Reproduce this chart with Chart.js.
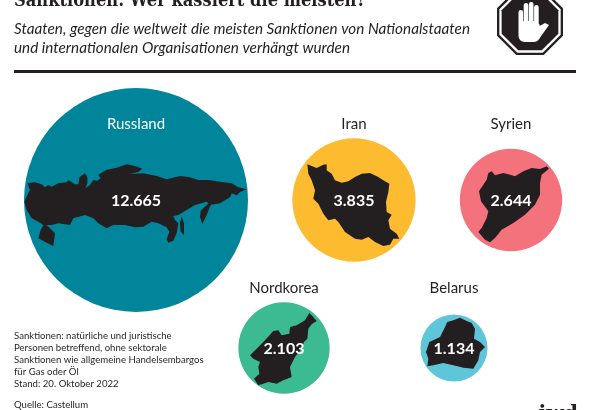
<!DOCTYPE html>
<html lang="de">
<head>
<meta charset="utf-8">
<title>Sanktionen</title>
<script src="https://cdn.jsdelivr.net/npm/chart.js@4"></script>
<style>
  body { margin: 0; background: #fff; }
  canvas { display: block; }
</style>
</head>
<body>
<canvas id="chart" width="590" height="410"></canvas>
<script>
// DATEN
const laender = ["Russland", "Iran", "Syrien", "Nordkorea", "Belarus"];
const sanktionen = [12665, 3835, 2644, 2103, 1134];
const werteText = ["12.665", "3.835", "2.644", "2.103", "1.134"];
const spalte = [136, 354, 511, 284, 454];
const reihe = [200, 200, 200, 348, 348];
const farben = ["#00859a", "#fdbb30", "#f4727c", "#3cba92", "#5fc6d9"];
const fussnote = [
  "Sanktionen: natürliche und juristische",
  "Personen betreffend, ohne sektorale",
  "Sanktionen wie allgemeine Handelsembargos",
  "für Gas oder Öl",
  "Stand: 20. Oktober 2022",
];

const DUNKEL = "#231f20";
const SANS = '"Lato", "Open Sans", sans-serif';

// Flaeche proportional zum Wert
const radiusFaktor = 112 / Math.sqrt(12665);

// Kreise duerfen bis an den Rand, sonst schrumpft die Chart-Flaeche um den groessten Radius
Chart.BubbleController.prototype.getMaxOverflow = () => 0;

// Umrisse, relativ zur Kreismitte (in 1/3 px)
const umrisse = {
  Russland: [
    [[-326,-50],[-303,-53],[-283,-47],[-273,-38],[-263,-45],[-253,-40],[-233,-50],[-208,-53],[-203,-60],[-183,-47],[-173,-47],[-170,-68],[-153,-80],[-146,-68],[-146,-50],[-152,-35],[-138,-45],[-128,-60],[-116,-58],[-106,-65],[-113,-75],[-90,-90],[-58,-97],[-28,-107],[-3,-102],[19,-94],[7,-84],[-18,-78],[22,-80],[62,-72],[92,-62],[132,-72],[162,-68],[187,-60],[217,-60],[252,-55],[287,-50],[307,-38],[332,-32],[312,-24],[302,-14],[287,-20],[282,-8],[252,10],[222,15],[212,5],[177,15],[152,30],[127,45],[112,48],[117,60],[127,70],[122,100],[112,122],[97,128],[92,118],[100,95],[92,82],[67,70],[47,65],[22,80],[-3,82],[-33,75],[-68,75],[-88,85],[-113,70],[-128,55],[-153,45],[-188,55],[-198,75],[-233,70],[-253,75],[-268,75],[-243,100],[-248,138],[-268,128],[-293,115],[-286,90],[-278,75],[-293,65],[-313,55],[-328,30],[-335,5],[-326,-15],[-318,-30]],
    [[232,0],[222,20],[212,45],[199,72],[192,50],[194,32],[212,15]],
    [[137,50],[144,70],[144,105],[134,95],[132,70]],
  ],
  Iran: [[[-140,-107],[-127,-102],[-112,-96],[-92,-106],[-82,-107],[-82,-89],[-67,-79],[-57,-59],[-37,-52],[-17,-56],[3,-69],[23,-79],[48,-81],[73,-69],[88,-59],[106,-49],[103,-24],[96,6],[98,36],[113,44],[103,61],[108,86],[128,101],[136,116],[118,116],[108,134],[88,138],[63,126],[43,111],[23,119],[3,116],[-27,96],[-47,66],[-57,56],[-77,61],[-92,41],[-107,11],[-122,-4],[-117,-29],[-127,-59],[-137,-79]]],
  Syrien: [[[-68,-81],[-58,-86],[-48,-74],[-23,-81],[-3,-76],[12,-71],[37,-86],[62,-96],[87,-93],[107,-101],[114,-94],[92,-76],[87,-51],[87,-16],[72,14],[42,44],[7,69],[-28,89],[-48,114],[-63,127],[-78,119],[-98,96],[-88,84],[-73,54],[-68,34],[-90,4],[-96,-26],[-83,-46],[-73,-61]]],
  Nordkorea: [[[76,-105],[83,-98],[98,-81],[83,-71],[73,-58],[70,-28],[60,-18],[53,2],[33,27],[18,57],[23,87],[-2,97],[-22,107],[-47,102],[-62,107],[-77,112],[-90,92],[-74,77],[-77,57],[-72,42],[-92,32],[-102,22],[-82,2],[-57,-23],[-32,-51],[-17,-53],[-7,-38],[16,-43],[18,-63],[38,-68],[63,-83]]],
  Belarus: [[[-2,-83],[18,-91],[38,-81],[53,-75],[63,-58],[60,-28],[78,-18],[93,-3],[78,12],[73,37],[58,62],[28,59],[-2,52],[-32,45],[-62,52],[-80,55],[-77,32],[-84,12],[-74,-18],[-42,-33],[-27,-63],[-20,-78]]],
};

function umrissZeichnen(ctx, polygone, x, y) {
  ctx.beginPath();
  polygone.forEach((poly) => {
    poly.forEach((p, i) => {
      const px = x + p[0] / 3;
      const py = y + p[1] / 3;
      if (i === 0) ctx.moveTo(px, py);
      else ctx.lineTo(px, py);
    });
    ctx.closePath();
  });
  ctx.fillStyle = DUNKEL;
  ctx.fill();
}

function stoppSchild(ctx, cx, cy, r) {
  const achteck = (rad) => {
    ctx.beginPath();
    for (let i = 0; i < 8; i++) {
      const w = Math.PI / 8 + (i * Math.PI) / 4;
      ctx.lineTo(cx + rad * Math.cos(w), cy + rad * Math.sin(w));
    }
    ctx.closePath();
  };
  ctx.fillStyle = DUNKEL;
  achteck(r);
  ctx.fill();
  ctx.fillStyle = "#fff";
  achteck(r - 2.5);
  ctx.fill();
  ctx.fillStyle = DUNKEL;
  achteck(r - 5);
  ctx.fill();
  // Hand
  ctx.fillStyle = "#fff";
  ctx.beginPath();
  ctx.roundRect(cx - 11.5, cy - 12, 4.6, 20, 2.3);
  ctx.roundRect(cx - 6.3, cy - 19, 4.6, 24, 2.3);
  ctx.roundRect(cx - 1.1, cy - 20, 4.6, 24, 2.3);
  ctx.roundRect(cx + 4.1, cy - 17, 4.6, 24, 2.3);
  ctx.roundRect(cx - 11.5, cy - 1, 21.5, 21, 6);
  ctx.fill();
  ctx.beginPath();
  ctx.moveTo(cx + 6, cy + 6);
  ctx.lineTo(cx + 15, cy + 1);
  ctx.lineTo(cx + 19, cy + 3);
  ctx.lineTo(cx + 9, cy + 17);
  ctx.closePath();
  ctx.fill();
}

const beschriftung = {
  id: "beschriftung",
  afterDatasetsDraw(chart) {
    const ctx = chart.ctx;
    const punkte = chart.getDatasetMeta(0).data;
    ctx.save();
    punkte.forEach((el, i) => {
      umrissZeichnen(ctx, umrisse[laender[i]], el.x, el.y);
      ctx.textAlign = "center";
      ctx.textBaseline = "middle";
      ctx.fillStyle = "#fff";
      ctx.font = "bold 16px " + SANS;
      ctx.fillText(werteText[i], el.x, el.y + 0.5);
      // Name ueber dem Kreis, bei Russland im Kreis
      ctx.font = "15px " + SANS;
      ctx.fillStyle = i === 0 ? "#fff" : DUNKEL;
      ctx.fillText(laender[i], el.x, i < 3 ? 124.5 : 288);
    });

    ctx.textAlign = "left";
    ctx.textBaseline = "alphabetic";
    ctx.fillStyle = DUNKEL;
    ctx.font = 'bold 18px "DejaVu Serif", serif';
    ctx.fillText("Sanktionen: Wer kassiert die meisten?", 14, 6, 352);
    ctx.font = "italic 16px " + SANS;
    ctx.fillText("Staaten, gegen die weltweit die meisten Sanktionen von Nationalstaaten", 14, 34, 456);
    ctx.fillText("und internationalen Organisationen verhängt wurden", 14, 53, 336);
    ctx.fillRect(14, 70, 562, 3);

    ctx.font = "9.6px " + SANS;
    fussnote.forEach((zeile, i) => ctx.fillText(zeile, 14, 338.5 + i * 12));
    ctx.fillText("Quelle: Castellum", 14, 408);

    ctx.font = 'bold 20.4px "DejaVu Serif", serif';
    ctx.fillText("iwd", 538.5, 419.5);

    stoppSchild(ctx, 530, 22, 35.7);
    ctx.restore();
  },
};

new Chart(document.getElementById("chart"), {
  type: "bubble",
  data: {
    datasets: [
      {
        data: laender.map((land, i) => ({
          x: spalte[i],
          y: reihe[i],
          r: radiusFaktor * Math.sqrt(sanktionen[i]),
        })),
        backgroundColor: farben,
        borderWidth: 0,
        clip: false,
      },
    ],
  },
  options: {
    responsive: false,
    animation: false,
    layout: { padding: 0 },
    plugins: { legend: { display: false }, title: { display: false }, tooltip: { enabled: false } },
    scales: {
      x: { display: false, min: 0, max: 590 },
      y: { display: false, min: 0, max: 410, reverse: true },
    },
  },
  plugins: [beschriftung],
});
</script>
</body>
</html>
